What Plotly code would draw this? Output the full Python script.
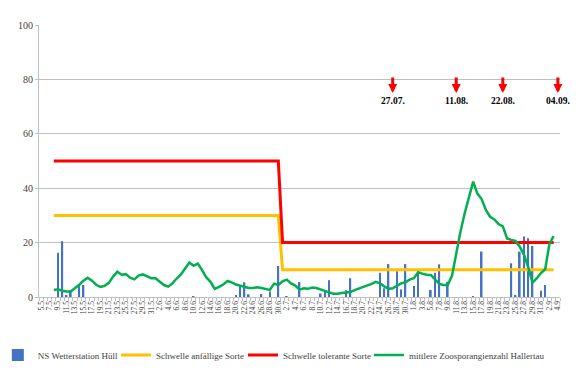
import pandas as pd
import plotly.graph_objects as go

# Categories: daily from 5.5 to 4.9
dates = pd.date_range("2021-05-05", "2021-09-04", freq="D")
categories = [f"{d.day}.{d.month}" for d in dates]
tick_labels = [c if i % 2 == 0 else "" for i, c in enumerate(categories)]

# Precipitation (NS Wetterstation Hüll)
rain_dates = ["9.5", "10.5", "11.5", "12.5", "14.5", "15.5", "10.6", "20.6", "21.6", "22.6",
              "23.6", "26.6", "28.6", "30.6", "2.7", "5.7", "10.7", "11.7", "12.7", "16.7",
              "17.7", "24.7", "25.7", "26.7", "28.7", "29.7", "30.7", "1.8", "2.8", "5.8",
              "6.8", "7.8", "9.8", "15.8", "17.8", "24.8", "25.8", "26.8", "27.8", "28.8",
              "29.8", "31.8", "1.9"]
rain_values = [16.3, 20.5, 0.7, 2.6, 4.0, 4.4, 0.3, 0.7, 3.8, 5.4,
               1.0, 1.1, 2.0, 11.4, 0.3, 5.5, 1.3, 2.0, 6.2, 2.5,
               6.9, 8.9, 3.2, 12.1, 9.5, 2.8, 12.1, 4.0, 8.8, 2.6,
               8.9, 12.0, 5.6, 0.3, 16.7, 12.4, 0.5, 16.7, 22.2, 21.6,
               18.8, 2.3, 4.4]

# mittlere Zoosporangienzahl Hallertau (8.5 .. 3.9)
zoo_values = [2.6, 2.8, 2.3, 2.0, 2.0, 3.1, 4.5, 6.0, 7.1, 6.0,
              4.5, 3.7, 4.1, 5.2, 7.5, 9.3, 8.2, 8.4, 7.1, 6.5,
              7.9, 8.3, 7.5, 6.9, 6.9, 5.8, 4.4, 3.8, 5.0, 6.8,
              8.3, 10.5, 12.7, 11.5, 12.3, 9.9, 7.2, 5.6, 3.0, 3.7,
              4.6, 5.9, 5.4, 4.6, 4.1, 3.7, 3.3, 3.3, 3.6, 3.3,
              2.9, 2.6, 4.9, 4.4, 5.8, 6.4, 5.0, 4.2, 2.7, 3.2,
              3.0, 3.5, 3.3, 2.7, 2.3, 1.7, 1.2, 1.2, 1.5, 1.6,
              1.8, 2.5, 3.1, 3.5, 4.1, 4.8, 5.6, 5.0, 3.9, 3.0,
              3.2, 4.2, 5.0, 5.4, 6.4, 6.9, 9.1, 8.6, 8.2, 8.1,
              6.3, 4.8, 4.4, 4.4, 7.8, 16.0, 24.0, 30.8, 36.5, 42.4,
              38.0, 36.0, 32.0, 29.5, 28.5, 26.8, 26.0, 21.5, 21.0, 20.6,
              18.5, 15.5, 11.0, 5.3, 6.8, 8.8, 10.2, 19.5, 22.4]
zoo_start = "8.5"

# Thresholds
thr_change = "1.7"
thr_susceptible = (30, 10)
thr_tolerant = (50, 20)

# Spray dates (arrows)
arrow_dates = ["27.7", "11.8", "22.8", "4.9"]
arrow_labels = ["27.07.", "11.08.", "22.08.", "04.09."]

# ---- build series on the category axis ----
i0 = categories.index(zoo_start)
zoo_x = categories[i0:i0 + len(zoo_values)]
ic = categories.index(thr_change)
susc_y = [thr_susceptible[0] if categories.index(c) < ic else thr_susceptible[1] for c in zoo_x]
tol_y = [thr_tolerant[0] if categories.index(c) < ic else thr_tolerant[1] for c in zoo_x]

FONT = "Liberation Serif"
TXT = "#404040"

fig = go.Figure()
fig.add_trace(go.Bar(x=rain_dates, y=rain_values, name="NS Wetterstation Hüll",
                     marker=dict(color="#4472C4", line=dict(width=0)), width=0.4,
                     legend="legend"))
fig.add_trace(go.Scatter(x=zoo_x, y=susc_y, mode="lines", name="Schwelle anfällige Sorte",
                         line=dict(color="#FFC000", width=3), legend="legend2"))
fig.add_trace(go.Scatter(x=zoo_x, y=tol_y, mode="lines", name="Schwelle tolerante Sorte",
                         line=dict(color="#FF0000", width=3), legend="legend3"))
fig.add_trace(go.Scatter(x=zoo_x, y=zoo_values, mode="lines", name="mittlere Zoosporangienzahl Hallertau",
                         line=dict(color="#00B050", width=2.5), legend="legend4"))

for d, lab in zip(arrow_dates, arrow_labels):
    xi = categories.index(d)
    fig.add_annotation(x=xi, y=75.0, ax=0, ay=-17, text="", showarrow=True,
                       arrowhead=2, arrowsize=0.6, arrowwidth=3, arrowcolor="#FF0000")
    fig.add_annotation(x=xi, y=72.0, text=f"<b>{lab}</b>", showarrow=False,
                       font=dict(family=FONT, size=9.5, color="#000000"))

leg_common = dict(orientation="h", yanchor="middle", y=0.057, xanchor="left",
                  yref="container",
                  font=dict(family=FONT, size=9, color=TXT), bgcolor="rgba(0,0,0,0)",
                  itemwidth=30)
fig.update_layout(
    width=573, height=368,
    margin=dict(l=31, r=21, t=17, b=79, autoexpand=False),
    plot_bgcolor="white", paper_bgcolor="white",
    showlegend=True,
    legend=dict(x=-0.079, xref="paper", **leg_common),
    legend2=dict(x=0.1885, xref="container", **leg_common),
    legend3=dict(x=0.4101, xref="container", **leg_common),
    legend4=dict(x=0.6300, xref="container", **leg_common),
    xaxis=dict(type="category", categoryorder="array", categoryarray=categories,
               range=[-0.5, len(categories) - 0.5], automargin=False,
               tickmode="array", tickvals=categories, ticktext=tick_labels,
               tickangle=-90, tickfont=dict(family=FONT, size=7.5, color=TXT),
               ticks="outside", ticklen=3, tickson="boundaries", tickcolor="#BFBFBF",
               showline=True, linecolor="#BFBFBF", showgrid=False, zeroline=False),
    yaxis=dict(range=[0, 100], dtick=20, tickfont=dict(family=FONT, size=10, color=TXT),
               ticks="outside", ticklen=3, tickcolor="#BFBFBF", automargin=False,
               showline=True, linecolor="#BFBFBF", gridcolor="#BFBFBF", zeroline=False),
)

fig.write_html("out.html")
